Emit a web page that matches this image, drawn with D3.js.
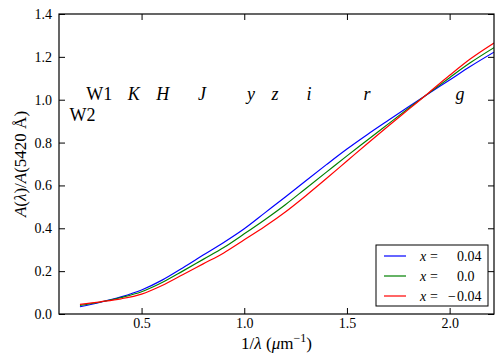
<!DOCTYPE html>
<html>
<head>
<meta charset="utf-8">
<script src="https://cdn.jsdelivr.net/npm/d3@7"></script>
</head>
<body style="margin:0">
<svg id="chart" width="504" height="363" font-family="Liberation Serif, Times New Roman, serif"></svg>
<script>
const FONT = "Liberation Serif, Times New Roman, serif";

// 1/lambda grid (um^-1)
const invWave = [0.2, 0.3, 0.4, 0.5, 0.6, 0.7, 0.8, 0.9, 1.0, 1.1, 1.2, 1.3, 1.4, 1.5, 1.6, 1.7, 1.8, 1.9, 2.0, 2.1, 2.216];
// A(lambda)/A(5420A) for x = 0.04, 0.0, -0.04
const extPos  = [0.034, 0.055, 0.080, 0.112, 0.158, 0.215, 0.275, 0.334, 0.398, 0.472, 0.546, 0.622, 0.697, 0.770, 0.838, 0.903, 0.967, 1.030, 1.092, 1.155, 1.222];
const extZero = [0.040, 0.056, 0.077, 0.104, 0.147, 0.200, 0.255, 0.310, 0.374, 0.440, 0.510, 0.586, 0.662, 0.738, 0.812, 0.886, 0.960, 1.032, 1.103, 1.172, 1.243];
const extNeg  = [0.045, 0.057, 0.071, 0.093, 0.133, 0.183, 0.234, 0.285, 0.346, 0.408, 0.476, 0.552, 0.632, 0.714, 0.796, 0.876, 0.955, 1.034, 1.114, 1.190, 1.265];

const seriesX = [0.04, 0.0, -0.04];
const seriesLabels = ["0.04", "0.0", "0.04"];
const seriesColors = ["#0000ff", "#008000", "#ff0000"];

// photometric band labels
const bandNames = ["W2", "W1", "K", "H", "J", "y", "z", "i", "r", "g"];
const bandPos   = [0.212, 0.294, 0.462, 0.603, 0.794, 1.033, 1.150, 1.315, 1.598, 2.050];
const bandLevel = [0.9, 1.0, 1.0, 1.0, 1.0, 1.0, 1.0, 1.0, 1.0, 1.0];

const xTicks = [0.5, 1.0, 1.5, 2.0];
const yTicks = [0.0, 0.2, 0.4, 0.6, 0.8, 1.0, 1.2, 1.4];

const svg = d3.select("#chart");
const margin = { top: 14, right: 10, bottom: 49, left: 59 };
const width = 504 - margin.left - margin.right;
const height = 363 - margin.top - margin.bottom;

const g = svg.append("g").attr("transform", `translate(${margin.left},${margin.top})`);

const x = d3.scaleLinear().domain([0.098, 2.216]).range([0, width]);
const y = d3.scaleLinear().domain([0, 1.4]).range([height, 0]);

g.append("clipPath").attr("id", "clip")
  .append("rect").attr("width", width).attr("height", height);

// curves
const allSeries = [extPos, extZero, extNeg];
const line = d3.line()
  .x((d, i) => x(invWave[i]))
  .y(d => y(d))
  .curve(d3.curveMonotoneX);

g.append("g").attr("clip-path", "url(#clip)")
  .selectAll("path")
  .data(allSeries)
  .join("path")
  .attr("d", d => line(d))
  .attr("fill", "none")
  .attr("stroke", (d, i) => seriesColors[i])
  .attr("stroke-width", 1.2);

// band labels
g.selectAll("text.band")
  .data(bandNames)
  .join("text")
  .attr("class", "band")
  .attr("x", (d, i) => x(bandPos[i]))
  .attr("y", (d, i) => y(bandLevel[i]))
  .attr("text-anchor", "middle")
  .attr("font-family", FONT)
  .attr("font-size", 18)
  .attr("font-style", d => d.length === 1 ? "italic" : "normal")
  .text(d => d);

// axes: ticks inside on all four sides
const tickLen = 6;
const axisBottom = g.append("g").attr("transform", `translate(0,${height})`)
  .call(d3.axisBottom(x).tickValues(xTicks).tickSize(-tickLen).tickPadding(4).tickFormat(d3.format(".1f")));
const axisTop = g.append("g")
  .call(d3.axisTop(x).tickValues(xTicks).tickSize(-tickLen).tickFormat(""));
const axisLeft = g.append("g")
  .call(d3.axisLeft(y).tickValues(yTicks).tickSize(-tickLen).tickPadding(7).tickFormat(d3.format(".1f")));
const axisRight = g.append("g").attr("transform", `translate(${width},0)`)
  .call(d3.axisRight(y).tickValues(yTicks).tickSize(-tickLen).tickFormat(""));

[axisBottom, axisTop, axisLeft, axisRight].forEach(a => {
  a.attr("font-family", FONT).attr("font-size", 14);
  a.select(".domain").remove();
  a.selectAll("line").attr("stroke", "#000").attr("stroke-width", 1);
  a.selectAll("text").attr("fill", "#000");
});

g.append("rect")
  .attr("width", width).attr("height", height)
  .attr("fill", "none").attr("stroke", "#000").attr("stroke-width", 1.2);

// axis labels
const xl = svg.append("text")
  .attr("x", margin.left + width / 2)
  .attr("y", 349)
  .attr("text-anchor", "middle")
  .attr("font-family", FONT)
  .attr("font-size", 17);
xl.append("tspan").text("1/");
xl.append("tspan").attr("font-style", "italic").text("λ");
xl.append("tspan").text(" (");
xl.append("tspan").attr("font-style", "italic").text("μ");
xl.append("tspan").text("m");
xl.append("tspan").attr("font-size", 12).attr("dy", -7).text("−1");
xl.append("tspan").attr("dy", 7).text(")");

const yl = svg.append("text")
  .attr("transform", `translate(26,${margin.top + height / 2}) rotate(-90)`)
  .attr("text-anchor", "middle")
  .attr("font-family", FONT)
  .attr("font-size", 17);
yl.append("tspan").attr("font-style", "italic").text("A");
yl.append("tspan").text("(");
yl.append("tspan").attr("font-style", "italic").text("λ");
yl.append("tspan").text(")/");
yl.append("tspan").attr("font-style", "italic").text("A");
yl.append("tspan").text("(5420 Å)");

// legend
const lg = svg.append("g").attr("transform", "translate(376,245)");
lg.append("rect")
  .attr("width", 112).attr("height", 61)
  .attr("fill", "#fff").attr("stroke", "#000").attr("stroke-width", 1);

const rows = lg.selectAll("g.row")
  .data(seriesX)
  .join("g")
  .attr("class", "row")
  .attr("transform", (d, i) => `translate(0,${11 + i * 20})`);

rows.append("line")
  .attr("x1", 8).attr("x2", 30)
  .attr("stroke", (d, i) => seriesColors[i])
  .attr("stroke-width", 1.2);

const legendText = (sel, xPos, anchor) => sel.append("text")
  .attr("x", xPos).attr("y", 4.5)
  .attr("text-anchor", anchor)
  .attr("font-family", FONT)
  .attr("font-size", 14);

legendText(rows, 44, "start").attr("font-style", "italic").text("x");
legendText(rows, 54, "start").text("=");
legendText(rows, 81, "start").text((d, i) => seriesLabels[i]);
legendText(rows.filter(d => d < 0), 80, "end").text("−");
</script>
</body>
</html>
